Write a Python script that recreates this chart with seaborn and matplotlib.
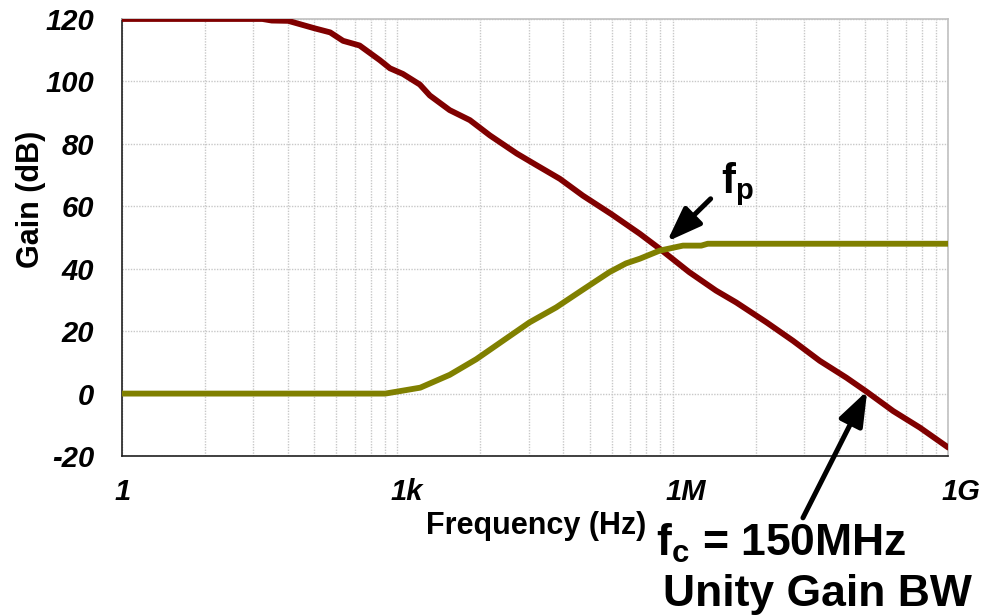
import numpy as np
import pandas as pd
import matplotlib
matplotlib.use("Agg")
import matplotlib.pyplot as plt
import matplotlib.transforms as mtransforms
from matplotlib.patches import ArrowStyle
from matplotlib.ticker import FixedLocator, MultipleLocator, NullFormatter
import seaborn as sns

# Open-loop gain of the amplifier (Hz, dB)
freq_open_loop = [1, 34, 43, 65, 126, 186, 257, 389, 646, 832,
                  1150, 1760, 2260, 3720, 6170, 1.02e4, 2.0e4, 3.31e4, 5.89e4, 1.05e5,
                  2.14e5, 4.37e5, 7.2e5, 1.51e6, 2.95e6, 4.9e6, 1.05e7, 2.04e7, 3.98e7, 7.76e7,
                  1.29e8, 2.51e8, 4.9e8, 1e9]
gain_open_loop = [120, 120, 119.5, 119.4, 117, 115.7, 113, 111.5, 106.8, 104.2,
                  102.4, 99, 95.5, 90.8, 87.6, 82.7, 76.9, 73.1, 68.8, 63.4,
                  57.5, 51.2, 46.4, 38.9, 33.0, 29.2, 22.8, 16.9, 10.5, 5.1,
                  0.6, -5.6, -10.9, -17.3]

# Second trace (Hz, dB)
freq_second = [1, 740, 980, 1780, 3720, 7240, 1.41e4, 2.75e4, 5.37e4, 1.05e5,
               2.04e5, 3.09e5, 4.37e5, 7.2e5, 1.29e6, 2.04e6, 2.4e6, 1e9]
gain_second = [0, 0, 0.6, 1.9, 6.0, 11.0, 16.9, 22.8, 27.6, 33.3,
               38.9, 41.7, 43.2, 45.8, 47.4, 47.4, 48.0, 48.0]

x_tick_values = [1, 1e3, 1e6, 1e9]
x_tick_labels = ["1", "1k", "1M", "1G"]
y_tick_values = [-20, 0, 20, 40, 60, 80, 100, 120]

sns.set_style("white")
plt.rcParams["font.family"] = ["Liberation Sans", "DejaVu Sans"]
plt.rcParams["axes.unicode_minus"] = False
plt.rcParams["text.color"] = "black"
plt.rcParams["xtick.color"] = "black"
plt.rcParams["ytick.color"] = "black"
plt.rcParams["mathtext.fontset"] = "custom"
plt.rcParams["mathtext.bf"] = "Liberation Sans:bold"
plt.rcParams["mathtext.rm"] = "Liberation Sans:bold"
plt.rcParams["mathtext.it"] = "Liberation Sans:bold:italic"

df = pd.concat([
    pd.DataFrame({"freq": freq_open_loop, "gain": gain_open_loop, "trace": "open"}),
    pd.DataFrame({"freq": freq_second, "gain": gain_second, "trace": "second"}),
], ignore_index=True)

fig = plt.figure(figsize=(9.81, 6.16), dpi=100)
ax = fig.add_axes([0.1241, 0.2597, 0.8426, 0.7095])

sns.lineplot(data=df, x="freq", y="gain", hue="trace",
             palette={"open": "#800000", "second": "#808000"},
             linewidth=4.2, estimator=None, sort=True, legend=False, ax=ax)
for ln in ax.lines:
    ln.set_solid_capstyle("round")
    ln.set_solid_joinstyle("round")
    ln.set_zorder(3)

ax.set_xscale("log")
ax.set_xlim(1, 1e9)
ax.set_ylim(-20, 120)

# minor x ticks sit at k^3 within each three-decade step
minor_x = [k ** 3 * 1000 ** n for n in range(3) for k in range(2, 10)]
ax.xaxis.set_major_locator(FixedLocator(x_tick_values))
ax.xaxis.set_minor_locator(FixedLocator(minor_x))
ax.xaxis.set_minor_formatter(NullFormatter())
ax.set_xticklabels(x_tick_labels)
ax.yaxis.set_major_locator(FixedLocator(y_tick_values))
ax.yaxis.set_minor_locator(MultipleLocator(5))
ax.yaxis.set_minor_formatter(NullFormatter())

grid_kw = dict(color="#c8c8c8", linestyle=(0, (1, 1)), linewidth=1.0)
ax.grid(True, which="both", axis="x", **grid_kw)
ax.grid(True, which="major", axis="y", **grid_kw)
ax.set_axisbelow(True)

ax.tick_params(which="major", direction="out", length=16, width=1.1, color="#202020")
ax.tick_params(which="minor", direction="out", length=8, width=1.1, color="#202020")
ax.tick_params(axis="y", which="major", pad=4)
ax.tick_params(axis="x", which="major", pad=0)

tick_font = dict(family="Liberation Sans", weight="bold", style="italic", size=21)
for lbl in ax.get_yticklabels():
    lbl.set_fontproperties(tick_font)
    lbl.set_color("black")
shift = mtransforms.ScaledTranslation(-7 / 100, 0, fig.dpi_scale_trans)
for lbl in ax.get_xticklabels():
    lbl.set_fontproperties(tick_font)
    lbl.set_color("black")
    lbl.set_horizontalalignment("left")
    lbl.set_transform(lbl.get_transform() + shift)

for side in ("left", "bottom"):
    ax.spines[side].set_color("#202020")
    ax.spines[side].set_linewidth(1.2)
for side in ("top", "right"):
    ax.spines[side].set_color("#c0c0c0")
    ax.spines[side].set_linewidth(1.2)

ax.set_xlabel("")
ax.set_ylabel("")
fig.text(31 / 981, 1 - 199 / 616, "Gain (dB)", rotation=90, ha="center", va="center",
         fontsize=22, fontweight="bold", color="black")
fig.text(536 / 981, 1 - 534 / 616, "Frequency (Hz)", ha="center", va="baseline",
         fontsize=22, fontweight="bold", color="black")

head = ArrowStyle("-|>", head_length=0.6, head_width=0.22)
arrow_kw = dict(arrowstyle=head, color="black", lw=3.6, mutation_scale=35,
                shrinkA=0, shrinkB=0)
ax.annotate("", xy=(10 ** 5.937, 48.7), xytext=(10 ** 6.412, 62.4),
            arrowprops=arrow_kw, annotation_clip=False, zorder=5)
ax.annotate("", xy=(10 ** 8.117, 0.9), xytext=(10 ** 7.417, -39.8),
            arrowprops=arrow_kw, annotation_clip=False, zorder=5)

ax.text(10 ** 6.53, 64.1, r"$\mathbf{f_p}$", fontsize=30, ha="left", va="baseline",
        color="black")
fig.text(656 / 981, 1 - 556 / 616, r"$\mathbf{f_c}$ = 150MHz", ha="left", va="baseline",
         fontsize=32, fontweight="bold", color="black")
fig.text(663 / 981, 1 - 606 / 616, "Unity Gain BW", ha="left", va="baseline",
         fontsize=32, fontweight="bold", color="black")

fig.savefig("out.png", dpi=100)
